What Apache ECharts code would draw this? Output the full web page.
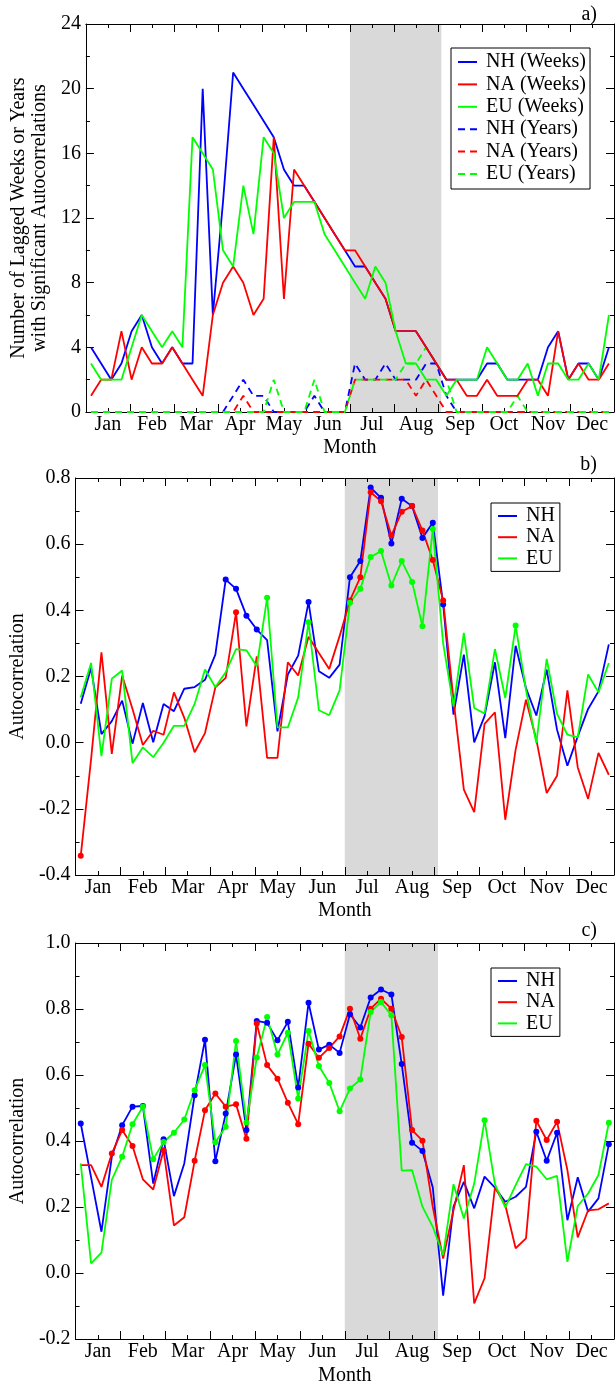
<!DOCTYPE html>
<html>
<head>
<meta charset="utf-8">
<script src="https://cdn.jsdelivr.net/npm/echarts@6/dist/echarts.min.js"></script>
<style>
html, body { margin: 0; padding: 0; background: #fff; }
#chart { width: 616px; height: 1389px; }
</style>
</head>
<body>
<div id="chart"></div>
<script>
const MONTHS = ['Jan', 'Feb', 'Mar', 'Apr', 'May', 'Jun', 'Jul', 'Aug', 'Sep', 'Oct', 'Nov', 'Dec']
// x position of each weekly value: centre of week 1..52
const WEEKS = Array.from({ length: 52 }, (_, i) => i + 0.5)
const SUMMER = [26, 35] // shaded weeks (Jul-Aug)

// a) number of lagged weeks / years with significant autocorrelations
const NH_WEEKS = [4, 3, 2, 3, 5, 6, 4, 3, 4, 3, 3, 20, 6, 13, 21, 20, 19, 18, 17, 15, 14, 14, 13,
  12, 11, 10, 9, 9, 8, 7, 5, 5, 5, 4, 3, 2, 2, 2, 2, 3, 3, 2, 2, 2, 2, 4, 5, 2, 3, 3, 2, 4]
const NA_WEEKS = [1, 2, 2, 5, 2, 4, 3, 3, 4, 3, 2, 1, 6, 8, 9, 8, 6, 7, 17, 7, 15, 14, 13,
  12, 11, 10, 10, 9, 8, 7, 5, 5, 5, 4, 3, 2, 2, 1, 1, 2, 1, 1, 1, 2, 2, 1, 5, 2, 3, 2, 2, 3]
const EU_WEEKS = [3, 2, 2, 2, 4, 6, 5, 4, 5, 4, 17, 16, 15, 10, 9, 14, 11, 17, 16, 12, 13, 13, 13,
  11, 10, 9, 8, 7, 9, 8, 5, 3, 3, 2, 2, 1, 2, 2, 2, 4, 3, 2, 2, 3, 1, 3, 3, 2, 2, 3, 2, 6]
const NH_YEARS = [0, 0, 0, 0, 0, 0, 0, 0, 0, 0, 0, 0, 0, 0, 1, 2, 1, 1, 0, 0, 0, 0, 1,
  0, 0, 0, 3, 2, 2, 3, 2, 2, 2, 3, 3, 1, 0, 0, 0, 0, 0, 0, 0, 0, 0, 0, 0, 0, 0, 0, 0, 0]
const NA_YEARS = [0, 0, 0, 0, 0, 0, 0, 0, 0, 0, 0, 0, 0, 0, 0, 1, 0, 0, 0, 0, 0, 0, 0,
  0, 0, 0, 2, 2, 2, 2, 2, 2, 1, 2, 1, 0, 0, 0, 0, 0, 0, 0, 0, 0, 0, 0, 0, 0, 0, 0, 0, 0]
const EU_YEARS = [0, 0, 0, 0, 0, 0, 0, 0, 0, 0, 0, 0, 0, 0, 0, 0, 0, 0, 2, 0, 0, 0, 2,
  0, 0, 0, 2, 2, 2, 2, 2, 3, 3, 4, 3, 2, 0, 0, 0, 0, 0, 0, 1, 0, 0, 0, 0, 0, 0, 0, 0, 0]

// b) autocorrelation
const B_NH = [0.118, 0.226, 0.026, 0.065, 0.127, -0.003, 0.12, 0.001, 0.117, 0.095, 0.163, 0.168, 0.19, 0.266, 0.493, 0.465, 0.384, 0.342, 0.31, 0.034, 0.206, 0.263, 0.425,
  0.216, 0.196, 0.236, 0.5, 0.549, 0.771, 0.74, 0.602, 0.737, 0.715, 0.619, 0.665, 0.418, 0.085, 0.266, 0.001, 0.08, 0.243, 0.014, 0.293, 0.165, 0.082, 0.221, 0.039, -0.07, 0.019, 0.102, 0.155, 0.297]
const B_NA = [-0.342, -0.05, 0.273, -0.034, 0.203, 0.102, -0.007, 0.036, 0.024, 0.152, 0.075, -0.029, 0.029, 0.167, 0.196, 0.394, 0.049, 0.261, -0.046, -0.046, 0.243, 0.203, 0.32,
  0.271, 0.223, 0.322, 0.43, 0.5, 0.757, 0.73, 0.626, 0.698, 0.715, 0.641, 0.552, 0.43, 0.13, -0.142, -0.21, 0.057, 0.092, -0.233, -0.021, 0.13, 0.009, -0.152, -0.1, 0.158, -0.075, -0.17, -0.031, -0.097]
const B_EU = [0.137, 0.241, -0.041, 0.193, 0.218, -0.062, -0.014, -0.044, 0.0, 0.051, 0.051, 0.117, 0.221, 0.168, 0.213, 0.283, 0.279, 0.231, 0.438, 0.046, 0.046, 0.137, 0.364,
  0.098, 0.083, 0.158, 0.423, 0.465, 0.561, 0.579, 0.475, 0.549, 0.486, 0.352, 0.646, 0.3, 0.11, 0.332, 0.105, 0.088, 0.283, 0.135, 0.354, 0.16, -0.001, 0.253, 0.087, 0.024, 0.016, 0.206, 0.152, 0.241]
// weeks marked with a dot (significant)
const B_NH_SIG = [14, 15, 16, 17, 22, 26, 27, 28, 29, 30, 31, 32, 33, 34, 35]
const B_NA_SIG = [0, 15, 26, 27, 28, 29, 30, 31, 32, 33, 34, 35]
const B_EU_SIG = [18, 22, 26, 27, 28, 29, 30, 31, 32, 33, 34, 42]

// c) autocorrelation
const C_NH = [0.453, 0.29, 0.125, 0.352, 0.448, 0.504, 0.506, 0.271, 0.405, 0.233, 0.332, 0.539, 0.707, 0.339, 0.483, 0.662, 0.433, 0.764, 0.758, 0.705, 0.761, 0.562, 0.819,
  0.677, 0.692, 0.667, 0.784, 0.744, 0.835, 0.859, 0.844, 0.633, 0.395, 0.37, 0.259, -0.069, 0.201, 0.276, 0.196, 0.292, 0.259, 0.216, 0.231, 0.261, 0.428, 0.34, 0.425, 0.16, 0.29, 0.186, 0.226, 0.39]
const C_NA = [0.327, 0.327, 0.261, 0.362, 0.433, 0.385, 0.284, 0.253, 0.372, 0.144, 0.169, 0.34, 0.493, 0.544, 0.504, 0.511, 0.407, 0.756, 0.63, 0.589, 0.516, 0.451, 0.695,
  0.652, 0.682, 0.717, 0.801, 0.71, 0.801, 0.831, 0.801, 0.715, 0.433, 0.401, 0.2, 0.044, 0.19, 0.327, -0.092, -0.016, 0.259, 0.206, 0.075, 0.105, 0.461, 0.403, 0.458, 0.312, 0.108, 0.19, 0.193, 0.211]
const C_EU = [0.332, 0.029, 0.062, 0.282, 0.352, 0.451, 0.504, 0.345, 0.397, 0.425, 0.465, 0.554, 0.63, 0.396, 0.443, 0.703, 0.456, 0.653, 0.776, 0.662, 0.728, 0.529, 0.733,
  0.627, 0.576, 0.49, 0.559, 0.586, 0.791, 0.821, 0.781, 0.31, 0.312, 0.201, 0.14, 0.054, 0.269, 0.165, 0.271, 0.463, 0.269, 0.199, 0.266, 0.33, 0.322, 0.284, 0.294, 0.034, 0.203, 0.241, 0.297, 0.455]
const C_NH_SIG = [0, 4, 5, 6, 8, 11, 12, 13, 14, 15, 16, 17, 18, 19, 20, 21, 22, 23, 24, 25, 26, 27, 28, 29, 30, 31, 32, 33, 44, 45, 46, 51]
const C_NA_SIG = [3, 4, 5, 8, 11, 12, 13, 14, 15, 16, 17, 18, 19, 20, 21, 22, 23, 24, 25, 26, 27, 28, 29, 30, 31, 32, 33, 44, 45, 46]
const C_EU_SIG = [4, 5, 6, 7, 8, 9, 10, 11, 12, 13, 14, 15, 16, 17, 18, 19, 20, 21, 22, 23, 24, 25, 26, 27, 28, 29, 30, 39, 51]

const FONT = '"Liberation Serif", "Times New Roman", Times, serif'
const BLUE = '#0000ff'
const RED = '#ff0000'
const GREEN = '#00ff00'
const txt = { color: '#000', fontFamily: FONT, fontSize: 20 }

function pairs(vals, sig) {
  return vals.map((v, i) => {
    const item = { value: [WEEKS[i], v] }
    if (sig && sig.includes(i)) item.symbol = 'circle'
    return item
  })
}

function xAxes(g, nameGap) {
  const base = {
    gridIndex: g, type: 'value', min: 0, max: 52, interval: 52 / 12, z: 1,
    axisLine: { show: true, onZero: false, lineStyle: { color: '#000', width: 1 } },
    axisTick: { inside: true, length: 8, lineStyle: { color: '#000' } },
    minorTick: { show: true, splitNumber: 2, length: 4, lineStyle: { color: '#000' } },
    axisLabel: { show: false },
    splitLine: { show: false }
  }
  return [
    { ...base, position: 'bottom' },
    {
      gridIndex: g, type: 'category', data: MONTHS, position: 'bottom', boundaryGap: true, z: 1,
      axisLine: { show: false, onZero: false }, axisTick: { show: false }, splitLine: { show: false },
      axisLabel: { ...txt, interval: 0, margin: 3 },
      name: 'Month', nameLocation: 'middle', nameGap, nameTextStyle: txt
    },
    { ...base, position: 'top' }
  ]
}

function yAxes(g, min, max, interval, fmt, name, nameGap, lineHeight) {
  const base = {
    gridIndex: g, type: 'value', min, max, interval, z: 1,
    axisLine: { show: true, onZero: false, lineStyle: { color: '#000', width: 1 } },
    axisTick: { inside: true, length: 8, lineStyle: { color: '#000' } },
    minorTick: { show: true, splitNumber: 2, length: 4, lineStyle: { color: '#000' } },
    splitLine: { show: false }
  }
  return [
    {
      ...base, position: 'left',
      axisLabel: { ...txt, margin: 5, formatter: fmt },
      name, nameLocation: 'middle', nameGap, nameRotate: 90,
      nameTextStyle: { ...txt, lineHeight }
    },
    { ...base, position: 'right', axisLabel: { show: false } }
  ]
}

function line(g, name, color, vals, sig, dash) {
  return {
    type: 'line', name, xAxisIndex: 3 * g, yAxisIndex: 2 * g,
    data: pairs(vals, sig),
    symbol: 'none', symbolSize: 6, showSymbol: true, z: 2,
    itemStyle: { color },
    lineStyle: { color, width: 1.8, type: dash || 'solid' },
    silent: true, animation: false
  }
}

function shade(g) {
  return {
    type: 'line', xAxisIndex: 3 * g, yAxisIndex: 2 * g, data: [], silent: true,
    markArea: {
      silent: true, z: 0,
      itemStyle: { color: '#d9d9d9' },
      data: [[{ xAxis: SUMMER[0] }, { xAxis: SUMMER[1] }]]
    }
  }
}

function legend(left, top, names, lineHeight, itemGap, padding) {
  return {
    orient: 'vertical', left, top, data: names, selectedMode: false,
    itemWidth: 19, itemHeight: 2, itemGap,
    itemStyle: { opacity: 0 },
    textStyle: { ...txt, lineHeight, padding: [0, 0, 0, 4] },
    padding, borderColor: '#000', borderWidth: 1, borderRadius: 0,
    backgroundColor: '#fff'
  }
}

const dec1 = (v) => v.toFixed(1)
const DASH = [7, 5]
const TITLE_FONT = '20px "Liberation Serif", "Times New Roman", serif'

const chart = echarts.init(document.getElementById('chart'), null, { renderer: 'canvas' })
chart.setOption({
  animation: false,
  backgroundColor: '#fff',
  grid: [
    { left: 82, top: 24, width: 532, height: 388 },
    { left: 71, top: 478, width: 543, height: 397 },
    { left: 71, top: 943, width: 543, height: 396 }
  ],
  xAxis: [...xAxes(0, 26), ...xAxes(1, 26), ...xAxes(2, 27)],
  yAxis: [
    ...yAxes(0, 0, 24, 4, null, 'Number of Lagged Weeks or Years\nwith Significant Autocorrelations', 26, 21),
    ...yAxes(1, -0.4, 0.8, 0.2, dec1, 'Autocorrelation', 33, 20),
    ...yAxes(2, -0.2, 1.0, 0.2, dec1, 'Autocorrelation', 33, 20)
  ],
  legend: [
    legend(451, 48, ['NH (Weeks)', 'NA (Weeks)', 'EU (Weeks)', 'NH (Years)', 'NA (Years)', 'EU (Years)'], 20, 2.4, [4, 4, 5, 6]),
    legend(491, 503, ['NH', 'NA', 'EU'], 18, 1.2, [3, 5, 3, 6]),
    legend(491, 968, ['NH', 'NA', 'EU'], 18, 1.2, [3, 5, 3, 6])
  ],
  graphic: [
    { type: 'text', right: 19, top: 5, style: { text: 'a)', font: TITLE_FONT, fill: '#000' } },
    { type: 'text', right: 19, top: 455, style: { text: 'b)', font: TITLE_FONT, fill: '#000' } },
    { type: 'text', right: 19, top: 921, style: { text: 'c)', font: TITLE_FONT, fill: '#000' } }
  ],
  series: [
    shade(0),
    line(0, 'NH (Years)', BLUE, NH_YEARS, null, DASH),
    line(0, 'NA (Years)', RED, NA_YEARS, null, DASH),
    line(0, 'EU (Years)', GREEN, EU_YEARS, null, DASH),
    line(0, 'NH (Weeks)', BLUE, NH_WEEKS),
    line(0, 'NA (Weeks)', RED, NA_WEEKS),
    line(0, 'EU (Weeks)', GREEN, EU_WEEKS),
    shade(1),
    line(1, 'NH', BLUE, B_NH, B_NH_SIG),
    line(1, 'NA', RED, B_NA, B_NA_SIG),
    line(1, 'EU', GREEN, B_EU, B_EU_SIG),
    shade(2),
    line(2, 'NH', BLUE, C_NH, C_NH_SIG),
    line(2, 'NA', RED, C_NA, C_NA_SIG),
    line(2, 'EU', GREEN, C_EU, C_EU_SIG)
  ]
})

window.addEventListener('resize', () => chart.resize())
</script>
</body>
</html>
